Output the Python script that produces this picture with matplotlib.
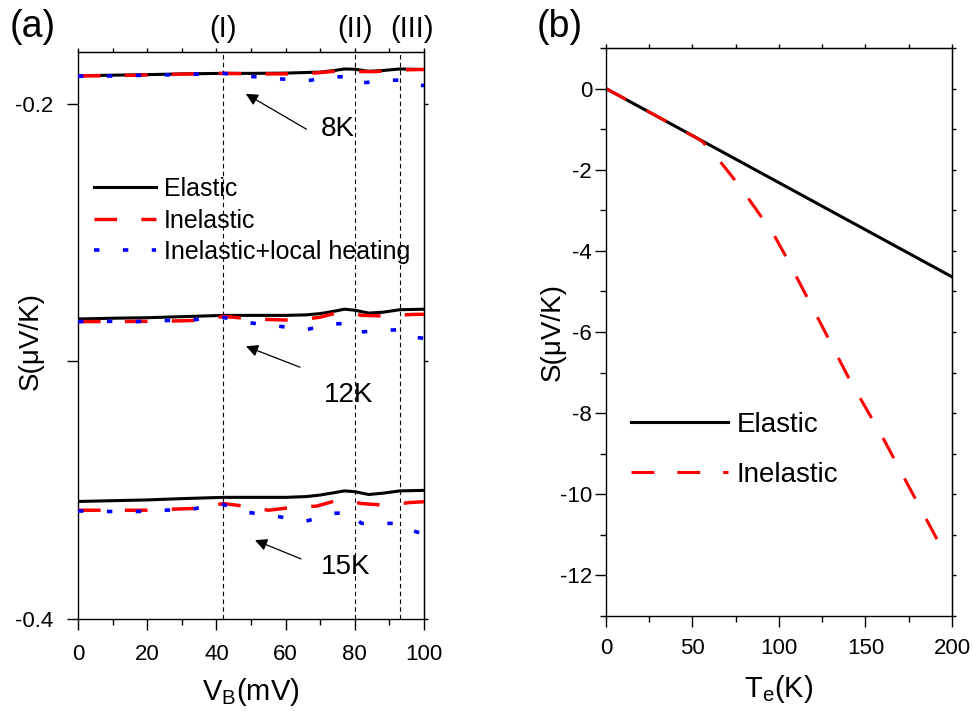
import matplotlib
matplotlib.use("Agg")
import matplotlib.pyplot as plt
from matplotlib.ticker import MultipleLocator

plt.rcParams['font.family'] = ['Liberation Sans', 'DejaVu Sans']
plt.rcParams['mathtext.fontset'] = 'custom'
plt.rcParams['mathtext.rm'] = 'Liberation Sans'
plt.rcParams['mathtext.it'] = 'Liberation Sans'
plt.rcParams['axes.unicode_minus'] = False

# ---- panel (a) data: S (uV/K) vs bias V_B (mV) ----
x8_el = [0, 10, 20, 30, 42, 50, 60, 70, 74, 77, 80, 84, 88, 93, 100]
s8_el = [-0.1892, -0.1890, -0.1888, -0.1885, -0.1883, -0.1883, -0.1882, -0.1878,
         -0.1872, -0.1866, -0.1867, -0.1875, -0.1872, -0.1866, -0.1868]
x8_in = [0, 10, 20, 30, 42, 50, 60, 66, 70, 74, 78, 82, 86, 90, 95, 100]
s8_in = [-0.1893, -0.1892, -0.1889, -0.1886, -0.1883, -0.1885, -0.1885, -0.1884,
         -0.1880, -0.1875, -0.1874, -0.1876, -0.1876, -0.1872, -0.1869, -0.1868]
x8_lh = [0, 10, 20, 30, 42, 49, 58, 66, 74, 79, 81, 82, 90, 93, 95, 98, 100]
s8_lh = [-0.1894, -0.1893, -0.1890, -0.1888, -0.1883, -0.1894, -0.1904, -0.1912,
         -0.1897, -0.1895, -0.1917, -0.1920, -0.1910, -0.1909, -0.1921, -0.1929, -0.1930]

x12_el = [0, 10, 20, 30, 42, 50, 60, 66, 70, 74, 77, 80, 84, 88, 93, 100]
s12_el = [-0.2836, -0.2833, -0.2831, -0.2827, -0.2822, -0.2822, -0.2822, -0.2820,
          -0.2815, -0.2806, -0.2798, -0.2802, -0.2813, -0.2810, -0.2800, -0.2798]
x12_in = [0, 10, 20, 30, 35, 42, 48, 55, 60, 66, 70, 74, 78, 80, 82, 88, 92, 97, 100]
s12_in = [-0.2846, -0.2846, -0.2845, -0.2843, -0.2841, -0.2826, -0.2833, -0.2838,
          -0.2840, -0.2836, -0.2829, -0.2815, -0.2812, -0.2816, -0.2822, -0.2824,
          -0.2822, -0.2818, -0.2818]
x12_lh = [0, 10, 17, 25, 33, 41, 49, 58, 66, 74, 79, 81, 82, 90, 93, 95, 98, 100]
s12_lh = [-0.2846, -0.2845, -0.2846, -0.2842, -0.2840, -0.2827, -0.2850, -0.2864,
          -0.2877, -0.2855, -0.2853, -0.2880, -0.2886, -0.2879, -0.2878, -0.2895,
          -0.2908, -0.2911]

x15_el = [0, 10, 20, 30, 42, 50, 60, 66, 70, 74, 77, 80, 84, 88, 93, 100]
s15_el = [-0.3544, -0.3541, -0.3538, -0.3533, -0.3528, -0.3528, -0.3528, -0.3525,
          -0.3519, -0.3510, -0.3503, -0.3506, -0.3517, -0.3512, -0.3503, -0.3501]
x15_in = [0, 10, 20, 27, 34, 42, 48, 55, 62, 69, 75, 78, 80, 82, 88, 92, 96, 100]
s15_in = [-0.3578, -0.3578, -0.3578, -0.3574, -0.3571, -0.3552, -0.3562, -0.3578,
          -0.3567, -0.3562, -0.3539, -0.3541, -0.3547, -0.3552, -0.3558, -0.3554,
          -0.3548, -0.3545]
x15_lh = [0, 10, 17, 25, 33, 41, 49, 58, 66, 74, 79, 81, 82, 90, 93, 95, 98, 100]
s15_lh = [-0.3581, -0.3583, -0.3583, -0.3578, -0.3574, -0.3552, -0.3586, -0.3603,
          -0.3620, -0.3590, -0.3587, -0.3620, -0.3629, -0.3629, -0.3628, -0.3647,
          -0.3663, -0.3667]

thresholds = [42, 80, 93]
threshold_labels = ['(I)', '(II)', '(III)']
threshold_label_x = [42, 80, 96.5]

# ---- panel (b) data: S (uV/K) vs electron temperature ----
te_el = [0, 50, 100, 150, 200]
sb_el = [0, -1.16, -2.32, -3.48, -4.64]
te_in = [0, 20, 40, 55, 60, 66, 72, 78, 87, 97, 104, 120, 141, 160, 176.7, 192.5]
sb_in = [0, -0.46, -0.93, -1.28, -1.50, -1.80, -2.12, -2.45, -2.99, -3.60, -4.14,
         -5.45, -7.19, -8.60, -9.94, -11.20]

fig = plt.figure(figsize=(9.73, 7.11), dpi=100)
axa = fig.add_axes([0.0802, 0.1294, 0.3556, 0.7975])
axb = fig.add_axes([0.6228, 0.1336, 0.3556, 0.7989])

red_dash = (0, (6.5, 7))
blue_dot = (0, (1.5, 6.5))

for xe, se, xi, si, xl, sl in [(x8_el, s8_el, x8_in, s8_in, x8_lh, s8_lh),
                               (x12_el, s12_el, x12_in, s12_in, x12_lh, s12_lh),
                               (x15_el, s15_el, x15_in, s15_in, x15_lh, s15_lh)]:
    axa.plot(xe, se, color='black', lw=2.2, zorder=3)
    axa.plot(xi, si, color='red', lw=2.5, ls=red_dash, zorder=4)
    axa.plot(xl, sl, color='blue', lw=2.6, ls=blue_dot, zorder=5)

for xt in thresholds:
    axa.axvline(xt, color='black', lw=0.8, ls=(0, (4, 3)), zorder=1)
for xt, lab in zip(threshold_label_x, threshold_labels):
    axa.text(xt, 1.041, lab, transform=axa.get_xaxis_transform(), ha='center',
             va='center', fontsize=21)

arrow = dict(arrowstyle='-|>', color='black', lw=0.9, mutation_scale=18)
axa.annotate('', xy=(47.8, -0.1957), xytext=(66.7, -0.2105), arrowprops=arrow)
axa.text(75, -0.2097, '8K', fontsize=20, ha='center', va='center')
axa.annotate('', xy=(47.8, -0.2938), xytext=(64.9, -0.3027), arrowprops=arrow)
axa.text(78.3, -0.3132, '12K', fontsize=20, ha='center', va='center')
axa.annotate('', xy=(50.4, -0.3690), xytext=(65.2, -0.3771), arrowprops=arrow)
axa.text(77.4, -0.3798, '15K', fontsize=20, ha='center', va='center')

axa.plot([], [], color='black', lw=2.2, label='Elastic')
axa.plot([], [], color='red', lw=2.5, ls=red_dash, label='Inelastic')
axa.plot([], [], color='blue', lw=2.6, ls=blue_dot, label='Inelastic+local heating')
h, l = axa.get_legend_handles_labels()
axa.legend(h, l, loc='upper left', bbox_to_anchor=(-0.005, 0.81), frameon=False,
           fontsize=18, handlelength=2.5, handletextpad=0.3, labelspacing=0.3,
           borderaxespad=0.3)

axa.set_xlim(0, 100)
axa.set_ylim(-0.4, -0.18)
axa.set_xticks([0, 20, 40, 60, 80, 100])
axa.xaxis.set_minor_locator(MultipleLocator(10))
axa.set_yticks([-0.4, -0.3, -0.2])
axa.set_yticklabels(['-0.4', '', '-0.2'])
axa.set_xlabel('V$_\\mathregular{B}$(mV)', fontsize=21)
axa.set_ylabel('S(μV/K)', fontsize=20)
axa.yaxis.set_label_coords(-0.1, 0.49)
axa.xaxis.set_label_coords(0.5, -0.1)

# ---- panel (b) ----
axb.plot(te_el, sb_el, color='black', lw=2.2, label='Elastic')
axb.plot(te_in, sb_in, color='red', lw=2.2, ls=(0, (7.5, 7.5)), label='Inelastic')
axb.legend(loc='upper left', bbox_to_anchor=(0.0, 0.403), frameon=False,
           fontsize=20, handlelength=3.5, handletextpad=0.3, labelspacing=0.85)
axb.set_xlim(0, 200)
axb.set_ylim(-13, 1)
axb.set_xticks([0, 50, 100, 150, 200])
axb.xaxis.set_minor_locator(MultipleLocator(25))
axb.set_yticks([0, -2, -4, -6, -8, -10, -12])
axb.yaxis.set_minor_locator(MultipleLocator(1))
axb.set_xlabel('T$_\\mathregular{e}$(K)', fontsize=21)
axb.set_ylabel('S(μV/K)', fontsize=20)
axb.yaxis.set_label_coords(-0.115, 0.5)
axb.xaxis.set_label_coords(0.5, -0.1)

for ax in (axa, axb):
    for sp in ax.spines.values():
        sp.set_linewidth(1.0)
    ax.tick_params(which='major', direction='out', length=8, width=1.0,
                   labelsize=16)
    ax.tick_params(which='minor', direction='out', length=4.5, width=1.0)
    # short mirrored ticks on the top and right
    top = ax.secondary_xaxis('top')
    top.set_xticks(list(ax.get_xticks()) + list(ax.xaxis.get_minorticklocs()))
    top.tick_params(direction='out', length=3, width=1.0, labeltop=False)
    right = ax.secondary_yaxis('right')
    right.set_yticks(list(ax.get_yticks()) + list(ax.yaxis.get_minorticklocs()))
    right.tick_params(direction='out', length=3, width=1.0, labelright=False)

axa.tick_params(axis='x', which='major', pad=10)
axa.tick_params(axis='y', which='major', pad=10)
axb.tick_params(axis='x', which='major', pad=8)
axb.tick_params(axis='y', which='major', pad=2)

fig.text(0.034, 0.962, '(a)', fontsize=27, ha='center', va='center')
fig.text(0.5755, 0.962, '(b)', fontsize=27, ha='center', va='center')

fig.savefig('out.png', dpi=100)
